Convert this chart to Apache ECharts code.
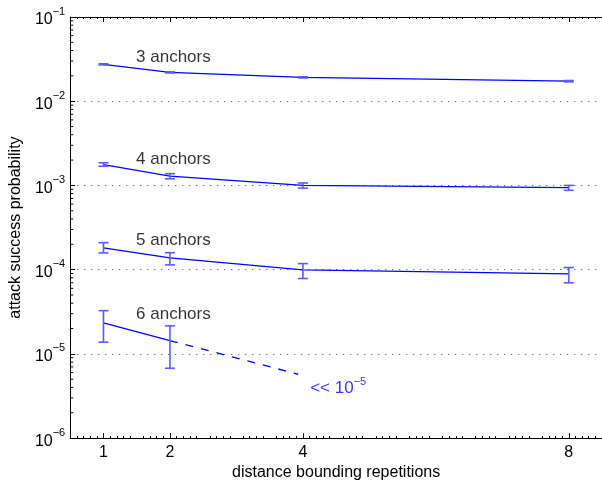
<!DOCTYPE html>
<html><head><meta charset="utf-8">
<script src="https://cdn.jsdelivr.net/npm/echarts@6/dist/echarts.min.js"></script>
<style>html,body{margin:0;padding:0;background:#fff}#c{width:602px;height:486px}</style>
</head><body><div id="c"></div>
<script>
// ---- data ----
const xTicks = [1, 2, 4, 8];
const xRange = [0.5, 8.5];
const yRange = [1e-6, 1e-1];
const xs = [1, 2, 4, 8];
const a3 = [0.0274, 0.0220, 0.0192, 0.0173];
const a3Lo = [0.0270, 0.0217, 0.0189, 0.0170];
const a3Hi = [0.0278, 0.0223, 0.0195, 0.0176];
const a4 = [0.00177, 0.00129, 0.00100, 0.00094];
const a4Lo = [0.00169, 0.00120, 0.00093, 0.000875];
const a4Hi = [0.00186, 0.00138, 0.00107, 0.00100];
const a5 = [1.81e-4, 1.38e-4, 9.95e-5, 8.9e-5];
const a5Lo = [1.58e-4, 1.14e-4, 7.85e-5, 6.98e-5];
const a5Hi = [2.09e-4, 1.59e-4, 1.18e-4, 1.06e-4];
const xs6 = [1, 2];
const a6 = [2.33e-5, 1.44e-5];
const a6Lo = [1.38e-5, 6.75e-6];
const a6Hi = [3.26e-5, 2.15e-5];
const extrapX = [2, 3.93];
const extrapY = [1.44e-5, 5.73e-6];
const seriesNames = ['3 anchors', '4 anchors', '5 anchors', '6 anchors'];
const nameAnchorX = [1.49, 1.49, 1.49, 1.49];
const nameAnchorY = [0.0334, 0.00203, 2.25e-4, 2.92e-5];
const noteText = '<< 10';
const noteExp = '\u22125';
const noteAnchor = [4.11, 4.1e-6];
const xTitle = 'distance bounding repetitions';
const yTitle = 'attack success probability';

// ---- build ----
const BLUE = '#0000ff';
const EBLUE = '#5a5aff';
const FONT = 'Liberation Sans, Arial, sans-serif';

function pairs(x, y) { return x.map((v, i) => [v, y[i]]); }
function errData(x, lo, hi) { return x.map((v, i) => [v, lo[i], hi[i]]); }

const minorY = [];
for (let k = -6; k <= -2; k++) for (let m = 2; m <= 9; m++) minorY.push(m * Math.pow(10, k));

function errRender(params, api) {
  const x = api.value(0);
  const p1 = api.coord([x, api.value(1)]);
  const p2 = api.coord([x, api.value(2)]);
  const w = 5;
  const st = { stroke: EBLUE, lineWidth: 1.6 };
  return { type: 'group', children: [
    { type: 'line', shape: { x1: p1[0], y1: p1[1], x2: p2[0], y2: p2[1] }, style: st },
    { type: 'line', shape: { x1: p1[0] - w, y1: p1[1], x2: p1[0] + w, y2: p1[1] }, style: st },
    { type: 'line', shape: { x1: p2[0] - w, y1: p2[1], x2: p2[0] + w, y2: p2[1] }, style: st }
  ]};
}

function minorRender(params, api) {
  const p = api.coord([xRange[0], api.value(0)]);
  return { type: 'line', shape: { x1: p[0], y1: p[1], x2: p[0] + 3, y2: p[1] },
           style: { stroke: '#000', lineWidth: 1 } };
}

function supLabel(v) {
  const e = Math.round(Math.log10(v));
  return '{b|10}{s|' + String(e).replace('-', '\u2212') + '}';
}

const labelData = seriesNames.map((n, i) => ({ name: n, value: [nameAnchorX[i], nameAnchorY[i]] }));

const chart = echarts.init(document.getElementById('c'), null, { renderer: 'canvas' });
chart.setOption({
  animation: false,
  backgroundColor: '#fff',
  grid: { left: 70, right: -2, top: 17, bottom: 46, containLabel: false },
  xAxis: [{
    type: 'value', min: xRange[0], max: xRange[1], interval: 0.5,
    name: xTitle, nameLocation: 'middle', nameGap: 23,
    nameTextStyle: { fontFamily: FONT, fontSize: 16, color: '#000' },
    axisLine: { onZero: false, lineStyle: { color: '#000', width: 1 } },
    axisTick: { inside: true, length: 5, customValues: xTicks, lineStyle: { color: '#000' } },
    minorTick: { show: true, splitNumber: 5, length: 2, lineStyle: { color: '#000' } },
    axisLabel: { customValues: xTicks, fontFamily: FONT, fontSize: 16, color: '#000', margin: 6 },
    splitLine: { show: false }
  }, {
    type: 'value', position: 'top', min: xRange[0], max: xRange[1], interval: 0.5,
    axisLine: { onZero: false, lineStyle: { color: '#000', width: 1 } },
    axisTick: { inside: true, length: 5, customValues: xTicks, lineStyle: { color: '#000' } },
    minorTick: { show: true, splitNumber: 5, length: 2, lineStyle: { color: '#000' } },
    axisLabel: { show: false },
    splitLine: { show: false }
  }],
  yAxis: {
    type: 'log', logBase: 10, min: yRange[0], max: yRange[1],
    name: yTitle, nameLocation: 'middle', nameGap: 39, nameRotate: 90,
    nameTextStyle: { fontFamily: FONT, fontSize: 16, color: '#000' },
    axisLine: { show: true, lineStyle: { color: '#000', width: 1 } },
    axisTick: { show: true, inside: true, length: 5, lineStyle: { color: '#000' } },
    axisLabel: {
      formatter: supLabel, margin: 5,
      rich: {
        b: { fontFamily: FONT, fontSize: 16, color: '#000', lineHeight: 22, verticalAlign: 'bottom' },
        s: { fontFamily: FONT, fontSize: 11, color: '#000', lineHeight: 12, verticalAlign: 'top' }
      }
    },
    splitLine: { show: true, lineStyle: { color: '#444', type: [1, 6], width: 1 } }
  },
  series: [
    { type: 'custom', renderItem: minorRender, data: minorY.map(v => [v]), encode: { y: 0 }, silent: true, z: 1 },
    { type: 'line', data: pairs(xs, a3), symbol: 'none', lineStyle: { color: BLUE, width: 1.3 }, z: 3 },
    { type: 'line', data: pairs(xs, a4), symbol: 'none', lineStyle: { color: BLUE, width: 1.3 }, z: 3 },
    { type: 'line', data: pairs(xs, a5), symbol: 'none', lineStyle: { color: BLUE, width: 1.3 }, z: 3 },
    { type: 'line', data: pairs(xs6, a6), symbol: 'none', lineStyle: { color: BLUE, width: 1.3 }, z: 3 },
    { type: 'line', data: pairs(extrapX, extrapY), symbol: 'none', lineStyle: { color: BLUE, width: 1.3, type: [8, 8] }, z: 3 },
    { type: 'custom', renderItem: errRender, data: errData(xs, a3Lo, a3Hi), encode: { x: 0, y: [1, 2] }, z: 4 },
    { type: 'custom', renderItem: errRender, data: errData(xs, a4Lo, a4Hi), encode: { x: 0, y: [1, 2] }, z: 4 },
    { type: 'custom', renderItem: errRender, data: errData(xs, a5Lo, a5Hi), encode: { x: 0, y: [1, 2] }, z: 4 },
    { type: 'custom', renderItem: errRender, data: errData(xs6, a6Lo, a6Hi), encode: { x: 0, y: [1, 2] }, z: 4 },
    { type: 'scatter', data: labelData, symbolSize: 0, silent: true, z: 5,
      label: { show: true, position: 'right', distance: 0, formatter: p => p.name,
               fontFamily: FONT, fontSize: 17, color: '#000' } },
    { type: 'scatter', data: [{ name: noteText, value: noteAnchor }], symbolSize: 0, silent: true, z: 5,
      label: { show: true, position: 'right', distance: 0,
               formatter: () => '{a|' + noteText + '}{s|' + noteExp + '}',
               rich: {
                 a: { fontFamily: FONT, fontSize: 17, color: BLUE, lineHeight: 21, verticalAlign: 'bottom' },
                 s: { fontFamily: FONT, fontSize: 11, color: BLUE, lineHeight: 11, verticalAlign: 'top' }
               } } }
  ]
});
</script></body></html>
